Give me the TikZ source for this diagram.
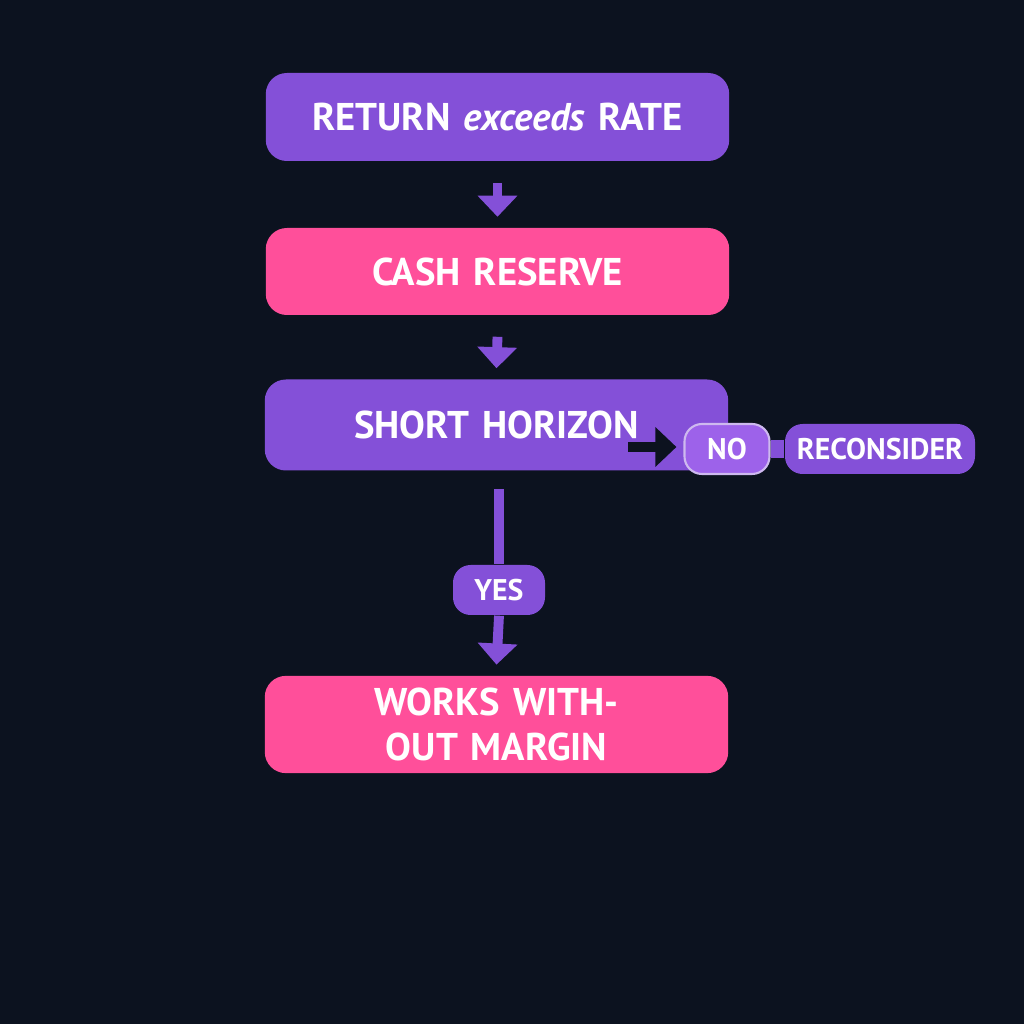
\documentclass[tikz,border=0pt]{standalone}
\usepackage{fontspec}
\setmainfont{PT Sans}
\usetikzlibrary{arrows.meta}
\definecolor{bg}{HTML}{0C121F}
\definecolor{violet}{HTML}{8450D8}
\definecolor{lilac}{HTML}{9D62EA}
\definecolor{rose}{HTML}{FF4F9A}
\tikzset{
  box/.style={rounded corners=6pt, text width=4.4cm, align=center, minimum width=4.58cm, text=white, font=\bfseries\fontsize{11}{13}\selectfont},
  tag/.style={rounded corners=5pt, fill=violet, minimum height=0.5cm, inner xsep=1pt, text=white, font=\bfseries\fontsize{8.5}{10}\selectfont},
  flow/.style={violet, line width=2.8pt, -{Triangle[length=6pt,width=11pt]}},
}
\begin{document}
\begin{tikzpicture}[x=1cm,y=1cm]
    \fill[bg] (0,0) rectangle (10.24,10.24);
    \node[box, fill=violet, minimum height=0.88cm] (ret) at (4.975,9.07) {RETURN \textit{exceeds} RATE};
    \node[box, fill=rose, minimum height=0.87cm] (cash) at (4.975,7.525) {CASH RESERVE};
    \node[box, fill=violet, minimum width=4.57cm, minimum height=0.91cm] (short) at (4.965,5.99) {SHORT HORIZON};
    \node[tag, fill=lilac, draw=violet!40!white, line width=0.6pt, minimum width=0.85cm] (no) at (7.27,5.75) {NO};
    \node[tag, minimum width=1.9cm] (recon) at (8.80,5.75) {RECONSIDER};
    \node[tag, minimum width=0.92cm] (yes) at (4.99,4.34) {YES};
    \node[box, fill=rose, minimum width=4.57cm, minimum height=0.79cm] (works) at (4.965,2.995) {WORKS WITHOUT MARGIN};
    \coordinate (turn) at (6.28,5.77);
    \draw[flow] ([yshift=-6pt]ret.south) -- ([yshift=3pt]cash.north);
    \draw[flow] ([yshift=-6pt]cash.south) -- ([yshift=3pt]short.north);
    \draw[bg, line width=2.8pt, -{Triangle[length=6pt,width=11pt]}] (turn) -- ([xshift=-2pt]no.west |- turn);
    \draw[violet, line width=5pt] (no.east) -- (recon.west);
    \draw[violet, line width=3pt] ([yshift=-5pt]yes.north |- short.south) -- (yes.north);
    \draw[flow] (yes.south) -- ([yshift=3pt]works.north);
\end{tikzpicture}
\end{document}
